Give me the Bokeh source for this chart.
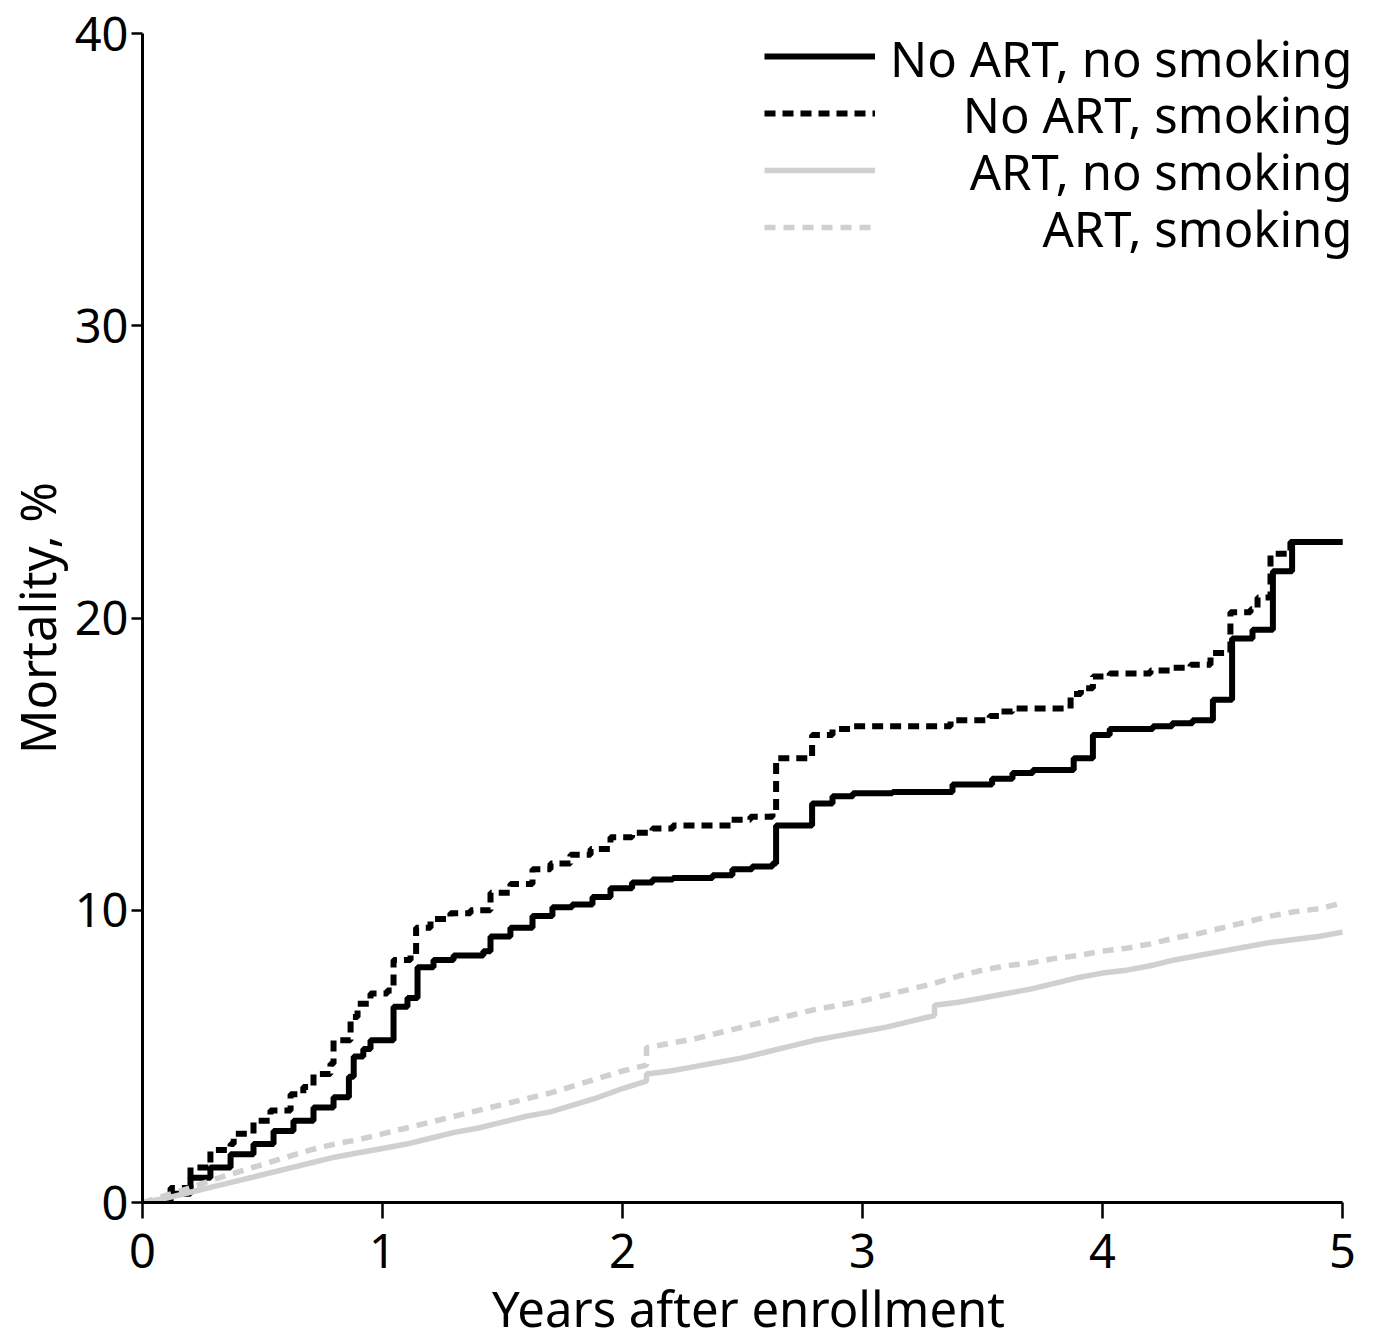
from bokeh.plotting import figure
from bokeh.models import Legend, LegendItem, Range1d, FixedTicker, Label
from bokeh.embed import file_html
from bokeh.resources import INLINE

# ---- data ----
noart_nosmk_t = [0, 0.117, 0.2, 0.283, 0.367, 0.4625, 0.546, 0.629, 0.7125, 0.796, 0.86, 0.88, 0.92, 0.95,
                 1.046, 1.104, 1.146, 1.2125, 1.296, 1.42, 1.45, 1.533, 1.625, 1.708, 1.79, 1.875, 1.95,
                 2.04, 2.125, 2.21, 2.375, 2.458, 2.54, 2.625, 2.64, 2.79, 2.875, 2.96, 3.125, 3.375,
                 3.54, 3.625, 3.71, 3.88, 3.96, 4.03, 4.21, 4.29, 4.375, 4.46, 4.54, 4.625, 4.71, 4.79, 5.0]
noart_nosmk_y = [0, 0.3, 0.85, 1.2, 1.65, 2.0, 2.45, 2.8, 3.25, 3.6, 4.3, 5.0, 5.25, 5.55,
                 6.7, 7.0, 8.05, 8.3, 8.45, 8.6, 9.1, 9.4, 9.8, 10.1, 10.2, 10.45, 10.75,
                 10.95, 11.05, 11.1, 11.2, 11.4, 11.5, 11.6, 12.9, 13.65, 13.9, 14.0, 14.05, 14.3,
                 14.5, 14.7, 14.8, 15.2, 16.0, 16.2, 16.3, 16.4, 16.5, 17.2, 19.3, 19.6, 21.6, 22.6, 22.6]

noart_smk_t = [0, 0.117, 0.2, 0.283, 0.367, 0.38, 0.4625, 0.533, 0.617, 0.67, 0.7125, 0.783, 0.796, 0.867,
               0.896, 0.95, 1.02, 1.046, 1.117, 1.14, 1.2, 1.283, 1.367, 1.45, 1.533, 1.625, 1.7, 1.783,
               1.867, 1.95, 2.04, 2.125, 2.21, 2.45, 2.533, 2.625, 2.64, 2.79, 2.875, 2.96, 3.367, 3.53,
               3.57, 3.625, 3.867, 3.91, 3.96, 4.03, 4.2, 4.28, 4.367, 4.45, 4.533, 4.617, 4.646, 4.7,
               4.783, 5.0]
noart_smk_y = [0, 0.5, 1.2, 1.8, 2.0, 2.35, 2.8, 3.15, 3.7, 3.95, 4.4, 4.75, 5.55, 6.35,
               6.8, 7.15, 7.25, 8.3, 8.45, 9.4, 9.7, 9.9, 10.0, 10.6, 10.9, 11.4, 11.6, 11.9,
               12.1, 12.5, 12.65, 12.8, 12.9, 13.1, 13.2, 13.35, 15.2, 16.0, 16.2, 16.3, 16.5, 16.65,
               16.8, 16.9, 17.4, 17.6, 18.0, 18.1, 18.2, 18.3, 18.4, 18.8, 20.2, 20.3, 20.7, 22.2,
               22.6, 22.6]

art_nosmk_t = [0, 0.1, 0.2, 0.3, 0.4, 0.5, 0.6, 0.7, 0.8, 0.9, 1.0, 1.1, 1.2, 1.3, 1.4, 1.5, 1.6, 1.7, 1.8,
               1.9, 2.0, 2.1, 2.1, 2.2, 2.3, 2.4, 2.5, 2.6, 2.7, 2.8, 2.9, 3.0, 3.1, 3.2, 3.3, 3.3, 3.4,
               3.5, 3.6, 3.7, 3.8, 3.9, 4.0, 4.1, 4.2, 4.3, 4.4, 4.5, 4.6, 4.7, 4.8, 4.9, 5.0]
art_nosmk_y = [0, 0.15, 0.35, 0.55, 0.75, 0.95, 1.15, 1.35, 1.55, 1.7, 1.85, 2.0, 2.2, 2.4, 2.55, 2.75,
               2.95, 3.1, 3.35, 3.6, 3.9, 4.15, 4.4, 4.5, 4.65, 4.8, 4.95, 5.15, 5.35, 5.55, 5.7, 5.85,
               6.0, 6.2, 6.4, 6.75, 6.85, 7.0, 7.15, 7.3, 7.5, 7.7, 7.85, 7.95, 8.1, 8.3, 8.45, 8.6,
               8.75, 8.9, 9.0, 9.1, 9.25]

art_smk_t = [0, 0.1, 0.2, 0.3, 0.4, 0.5, 0.6, 0.7, 0.8, 0.9, 1.0, 1.1, 1.2, 1.3, 1.4, 1.5, 1.6, 1.7, 1.8,
             1.9, 2.0, 2.1, 2.1, 2.2, 2.3, 2.4, 2.5, 2.6, 2.7, 2.8, 2.9, 3.0, 3.1, 3.2, 3.3, 3.4, 3.5,
             3.6, 3.7, 3.8, 3.9, 4.0, 4.1, 4.2, 4.3, 4.4, 4.5, 4.6, 4.7, 4.8, 4.9, 5.0]
art_smk_y = [0, 0.25, 0.5, 0.8, 1.05, 1.3, 1.55, 1.8, 2.0, 2.15, 2.35, 2.55, 2.75, 2.95, 3.15, 3.35,
             3.55, 3.75, 4.0, 4.25, 4.5, 4.7, 5.3, 5.45, 5.6, 5.8, 6.0, 6.2, 6.4, 6.6, 6.75, 6.9,
             7.1, 7.3, 7.5, 7.75, 7.95, 8.1, 8.2, 8.35, 8.45, 8.6, 8.7, 8.85, 9.05, 9.2, 9.4, 9.6,
             9.8, 9.95, 10.05, 10.25]

labels = ["No ART, no smoking", "No ART, smoking", "ART, no smoking", "ART, smoking"]
x_ticks = [0, 1, 2, 3, 4, 5]
y_ticks = [0, 10, 20, 30, 40]

FONT = "Noto Sans"
GREY = "#d0d0d0"

p = figure(width=1358, height=1338, output_backend="svg", toolbar_location=None,
           x_range=Range1d(0, 5.05), y_range=Range1d(0, 40),
           min_border_left=142, min_border_top=33, min_border_right=4, min_border_bottom=136)
p.frame_width = 1212
p.frame_height = 1169
p.outline_line_color = None
p.grid.visible = False
p.background_fill_color = "white"

r1 = p.step(noart_nosmk_t, noart_nosmk_y, mode="after", line_color="black", line_width=6)
r2 = p.step(noart_smk_t, noart_smk_y, mode="after", line_color="black", line_width=6, line_dash="11 7")
r3 = p.line(art_nosmk_t, art_nosmk_y, line_color=GREY, line_width=5.5)
r4 = p.line(art_smk_t, art_smk_y, line_color=GREY, line_width=5.5, line_dash="11 8")

for ax in (p.xaxis[0], p.yaxis[0]):
    ax.axis_line_width = 3
    ax.major_tick_line_width = 2.5
    ax.major_tick_in = 0
    ax.minor_tick_line_color = None
    ax.major_label_text_font = FONT
    ax.major_label_text_font_size = "47px"
    ax.major_label_text_color = "black"
    ax.axis_label_text_font = FONT
    ax.axis_label_text_font_size = "49px"
    ax.axis_label_text_font_style = "normal"
    ax.axis_label_text_color = "black"

p.xaxis.ticker = FixedTicker(ticks=x_ticks)
p.yaxis.ticker = FixedTicker(ticks=y_ticks)
p.xaxis.bounds = (0, 5)
p.xaxis.major_tick_out = 16
p.yaxis.major_tick_out = 11
p.xaxis.axis_label = "Years after enrollment"
p.yaxis.axis_label = "Mortality, %"
p.xaxis.major_label_standoff = 15
p.yaxis.major_label_standoff = 3
p.xaxis.axis_label_standoff = 4
p.yaxis.axis_label_standoff = 2

# legend samples (glyphs only); texts are right-aligned labels
legend = Legend(items=[LegendItem(label="", renderers=[r]) for r in (r1, r2, r3, r4)],
                location=(622, 965))
legend.label_text_font_size = "1px"
legend.glyph_width = 111
legend.glyph_height = 20
legend.label_standoff = 0
legend.label_width = 0
legend.label_height = 0
legend.spacing = 37
legend.padding = 0
legend.margin = 0
legend.background_fill_alpha = 0
legend.border_line_color = None
p.add_layout(legend)

label_y = [1145, 1089, 1032, 975]
for txt, yy in zip(labels, label_y):
    p.add_layout(Label(x=1210, y=yy, x_units="screen", y_units="screen", text=txt,
                       text_align="right", text_baseline="alphabetic",
                       text_font=FONT, text_font_size="49px", text_color="black"))

open("out.html", "w").write(file_html(p, INLINE))
